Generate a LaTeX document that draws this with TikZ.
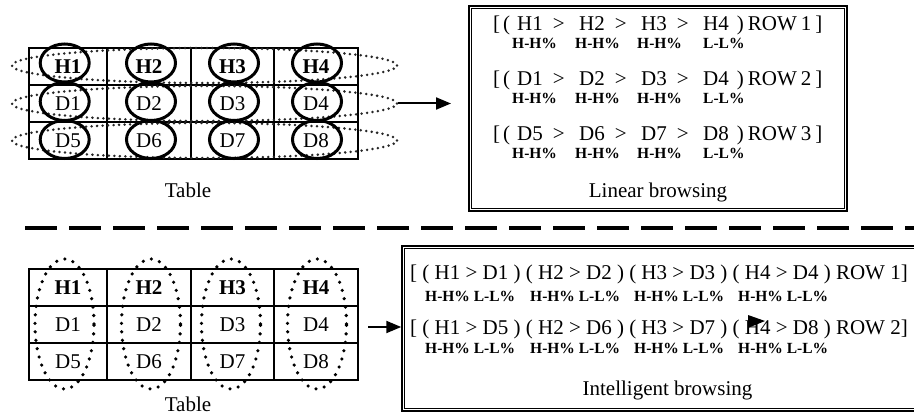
\documentclass[tikz,border=0pt]{standalone}
\usepackage{fontspec}
\setmainfont{Liberation Serif}
\usetikzlibrary{shapes.geometric,arrows.meta}
\newcommand{\linrow}[5]{[\hspace{3pt}(\hspace{7pt}#1\hspace{10pt}>\hspace{14.5pt}#2\hspace{10pt}>\hspace{14.5pt}#3\hspace{10pt}>\hspace{14.5pt}#4\hspace{8pt})\hspace{4pt}ROW\hspace{4pt}#5\hspace{4pt}]}
\begin{document}
\begin{tikzpicture}[x=1pt,y=-1pt,
  cell/.style={draw, line width=1.3pt, inner sep=0pt, minimum height=37pt, font=\fontsize{21}{24}\selectfont},
  hcell/.style={cell, font=\fontsize{21}{24}\selectfont\bfseries},
  solidell/.style={draw, ellipse, line width=3pt, minimum width=49pt, minimum height=38pt, inner sep=0pt},
  rowell/.style={draw=black!85, ellipse, line width=2.8pt, dash pattern=on 0pt off 5.5pt, line cap=round, minimum width=385pt, minimum height=35pt, inner sep=0pt},
  colell/.style={draw, ellipse, line width=3.6pt, dash pattern=on 0pt off 8.5pt, line cap=round, minimum width=59pt, minimum height=130pt, inner sep=0pt},
  txt/.style={font=\fontsize{21}{24}\selectfont, inner sep=0pt},
  lab/.style={font=\fontsize{15.5}{18}\selectfont\bfseries, inner sep=0pt, anchor=west},
  arr/.style={line width=2pt, -{Triangle[length=15pt,width=12pt]}},
  boxouter/.style={draw, line width=1.5pt, inner sep=0pt},
]
\useasboundingbox (0,0) rectangle (914,417);
\fill[white] (0,0) rectangle (914,417);

% ---------- top table ----------
\foreach \c/\x/\w in {1/68/78, 2/149/84, 3/232.5/83, 4/316/84} {
  \pgfmathtruncatemacro\dd{\c+4}
  \node[hcell, minimum width=\w pt] (ta\c) at (\x,66.5) {H\c};
  \node[cell, minimum width=\w pt] (tb\c) at (\x,103.5) {D\c};
  \node[cell, minimum width=\w pt] (tc\c) at (\x,140.5) {D\dd};
}
\node[rowell] (r1) at (204.5,65.5) {};
\node[rowell] (r2) at (204.5,103.5) {};
\node[rowell] (r3) at (204.5,140.5) {};
\foreach \c/\x in {1/64.7, 2/151, 3/234, 4/317} {
  \node[solidell] (ea\c) at (\x,63) {};
  \node[solidell] (eb\c) at (\x,101.5) {};
  \node[solidell] (ec\c) at (\x,139.5) {};
}
\node[txt] (ttab) at (188,190) {Table};

% ---------- linear browsing box ----------
\node[boxouter, minimum width=378pt, minimum height=205pt] (linbox) at (658,108.5) {};
\draw[line width=0.8pt] ([shift={(3.5,3.5)}]linbox.north west) rectangle ([shift={(-3.5,-3.5)}]linbox.south east);
\node[txt, anchor=west] (lr1) at (493,25) {\linrow{H1}{H2}{H3}{H4}{1}};
\node[txt, anchor=west] (lr2) at (493,80) {\linrow{D1}{D2}{D3}{D4}{2}};
\node[txt, anchor=west] (lr3) at (493,135) {\linrow{D5}{D6}{D7}{D8}{3}};
\foreach \y in {43,98,153} {
  \node[lab] at (512,\y) {H-H\%};
  \node[lab] at (575,\y) {H-H\%};
  \node[lab] at (637,\y) {H-H\%};
  \node[lab] at (703,\y) {L-L\%};
}
\node[txt] (linlab) at (658,192) {Linear browsing};

\coordinate (toptip) at (451,103.5);
\draw[arr] (r2.east) -- (toptip);

% ---------- divider ----------
\draw[line width=4pt, dash pattern=on 32pt off 12pt] (25,228) -- (930,228);

% ---------- bottom table ----------
\foreach \c/\x/\w in {1/68/78, 2/149/84, 3/232.5/83, 4/316/84} {
  \pgfmathtruncatemacro\dd{\c+4}
  \node[hcell, minimum width=\w pt] (ba\c) at (\x,287.5) {H\c};
  \node[cell, minimum width=\w pt] (bb\c) at (\x,324.5) {D\c};
  \node[cell, minimum width=\w pt] (bc\c) at (\x,361.5) {D\dd};
}
\foreach \c/\x in {1/64.5, 2/151, 3/231, 4/317} {
  \node[colell] (ce\c) at (\x,324) {};
}
\node[txt] (btab) at (188,404) {Table};

% ---------- intelligent browsing box ----------
\node[boxouter, minimum width=523pt, minimum height=165pt] (intbox) at (663.5,328.5) {};
\draw[line width=0.8pt] ([shift={(3.5,3.5)}]intbox.north west) rectangle ([shift={(-3.5,-3.5)}]intbox.south east);
\node[txt, anchor=west] (ir1) at (410,274) {[ ( H1 > D1 ) ( H2 > D2 ) ( H3 > D3 ) ( H4 > D4 ) ROW 1]};
\node[txt, anchor=west] (ir2) at (410,329) {[ ( H1 > D5 ) ( H2 > D6 ) ( H3 > D7 ) ( H4 > D8 ) ROW 2]};
\foreach \y in {296,348} {
  \foreach \x in {425,530,634,738} {
    \node[lab] at (\x,\y) {H-H\% L-L\%};
  }
}
\node[txt] (intlab) at (667.5,390) {Intelligent browsing};
\fill (748,315) -- (748,328) -- (765,321) -- cycle;

\coordinate (bottail) at (368,327);
\draw[arr] (bottail) -- (bottail -| intbox.west);
\end{tikzpicture}
\end{document}
